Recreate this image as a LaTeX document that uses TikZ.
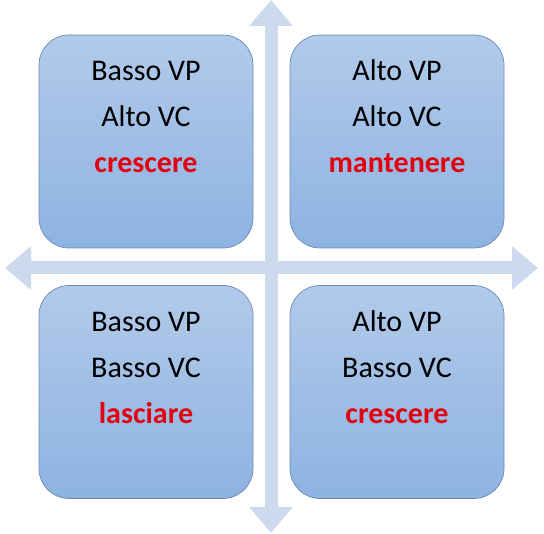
\documentclass[tikz,border=0pt]{standalone}
\usepackage{fontspec}
\setmainfont{Carlito}
\usepackage{xcolor}
\usepackage{tikz}
\usetikzlibrary{arrows.meta,positioning,calc}
\definecolor{axisblue}{HTML}{CDDAEE}
\definecolor{boxtop}{HTML}{B2CAEA}
\definecolor{boxbottom}{HTML}{8DB3E2}
\definecolor{boxline}{HTML}{6A88B4}
\definecolor{actionred}{HTML}{E3000F}

\begin{document}
\begin{tikzpicture}[
    x=1pt,y=-1pt,
    line join=miter,
    axis/.style={draw=axisblue, line width=13pt, {Triangle[length=26pt,width=42pt]}-{Triangle[length=26pt,width=42pt]}},
    quadrant/.style={draw=boxline, line width=0.7pt, rounded corners=30pt, top color=boxtop, bottom color=boxbottom, minimum width=214pt, minimum height=213pt, inner sep=0pt},
    boxtext/.style={font=\fontsize{30}{34}\selectfont, text=black, anchor=base},
    action/.style={font=\fontsize{30}{34}\selectfont\bfseries, text=actionred, anchor=base}
]
\useasboundingbox (0,0) rectangle (544,534);

% Axes
\coordinate (axtop)    at (271,0);
\coordinate (axbottom) at (271,533);
\coordinate (axleft)   at (5,268);
\coordinate (axright)  at (538,268);
\draw[axis] (axbottom) -- (axtop);
\draw[axis] (axleft) -- (axright);

% Quadrants
\node[quadrant] (qtl) at (146,141.5) {};
\node[quadrant] (qtr) at (397,141.5) {};
\node[quadrant] (qbl) at (146,392) {};
\node[quadrant] (qbr) at (397,392) {};

% Top left
\node[boxtext] (tl1) at ([yshift=60.5pt]qtl.center) {Basso VP};
\node[boxtext] (tl2) at ([yshift=14.5pt]qtl.center) {Alto VC};
\node[action]  (tl3) at ([yshift=-31.5pt]qtl.center) {crescere};

% Top right
\node[boxtext] (tr1) at ([yshift=60.5pt]qtr.center) {Alto VP};
\node[boxtext] (tr2) at ([yshift=14.5pt]qtr.center) {Alto VC};
\node[action]  (tr3) at ([yshift=-31.5pt]qtr.center) {mantenere};

% Bottom left
\node[boxtext] (bl1) at ([yshift=60.5pt]qbl.center) {Basso VP};
\node[boxtext] (bl2) at ([yshift=14.5pt]qbl.center) {Basso VC};
\node[action]  (bl3) at ([yshift=-31.5pt]qbl.center) {lasciare};

% Bottom right
\node[boxtext] (br1) at ([yshift=60.5pt]qbr.center) {Alto VP};
\node[boxtext] (br2) at ([yshift=14.5pt]qbr.center) {Basso VC};
\node[action]  (br3) at ([yshift=-31.5pt]qbr.center) {crescere};

\end{tikzpicture}
\end{document}
